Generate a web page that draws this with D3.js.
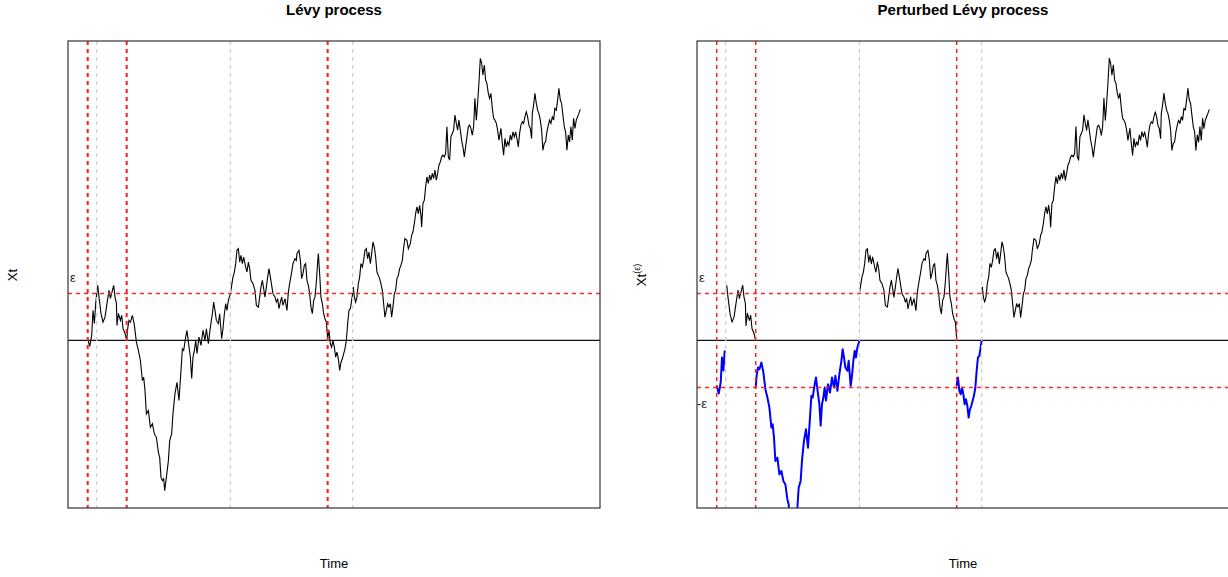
<!DOCTYPE html>
<html>
<head>
<meta charset="utf-8">
<script src="https://cdn.jsdelivr.net/npm/d3@7/dist/d3.min.js"></script>
<style>
  body { margin: 0; background: #fff; }
  text { font-family: "Liberation Sans", Arial, sans-serif; }
</style>
</head>
<body>
<div id="chart"></div>
<script>
// sampled path of the process (time, value)
var times = [0.000, 0.020, 0.040, 0.053, 0.067, 0.080, 0.100, 0.113, 0.133, 0.153, 0.173, 0.193, 0.213, 0.227, 0.247, 0.260, 0.273, 0.287, 0.293, 0.307, 0.327, 0.340, 0.353, 0.373, 0.390,
  0.400, 0.413, 0.427, 0.447, 0.467, 0.487, 0.507, 0.527, 0.547, 0.560, 0.573, 0.587, 0.607, 0.627, 0.647, 0.667, 0.687, 0.707, 0.720, 0.733, 0.747, 0.760, 0.770, 0.787, 0.807, 0.820, 0.840, 0.853, 0.873, 0.893, 0.913, 0.933, 0.947, 0.960, 0.980, 0.993,
  1.007, 1.027, 1.040, 1.053, 1.067, 1.080, 1.093, 1.113, 1.133, 1.153, 1.173, 1.187, 1.207, 1.227, 1.247, 1.260, 1.273, 1.287, 1.307, 1.320, 1.340, 1.353, 1.367, 1.380, 1.393, 1.407, 1.427,
  1.440, 1.453, 1.467, 1.480, 1.493, 1.507, 1.520, 1.533, 1.547, 1.560, 1.580, 1.593, 1.607, 1.620, 1.633, 1.653, 1.673, 1.687, 1.707, 1.720, 1.733, 1.747, 1.760, 1.773, 1.787, 1.800, 1.813, 1.827, 1.840, 1.853, 1.873, 1.887, 1.900, 1.913, 1.927, 1.940, 1.953, 1.973, 1.993,
  2.007, 2.020, 2.040, 2.053, 2.073, 2.087, 2.093, 2.113, 2.127, 2.140, 2.153, 2.167, 2.180, 2.193, 2.207, 2.220, 2.233, 2.247, 2.260, 2.273, 2.287, 2.300, 2.307, 2.320, 2.333, 2.347, 2.360, 2.373, 2.387, 2.400,
  2.413, 2.427, 2.440, 2.453, 2.467, 2.480, 2.493, 2.507, 2.520, 2.533, 2.547, 2.560, 2.573, 2.587, 2.600, 2.613, 2.627, 2.640, 2.650, 2.657, 2.667, 2.680, 2.693, 2.707, 2.720, 2.733, 2.747, 2.760, 2.773, 2.787, 2.800, 2.813, 2.827, 2.840, 2.853, 2.867, 2.880, 2.893, 2.907, 2.920, 2.933, 2.947, 2.960, 2.973, 2.987,
  3.000, 3.013, 3.027, 3.040, 3.053, 3.067, 3.080, 3.093, 3.107, 3.120, 3.133, 3.147, 3.157, 3.173, 3.193, 3.207, 3.227, 3.240, 3.253, 3.267, 3.280, 3.293, 3.307, 3.320, 3.333, 3.340, 3.353, 3.367, 3.380, 3.393, 3.407, 3.420, 3.433, 3.447, 3.460, 3.473, 3.487,
  3.500, 3.513, 3.527, 3.540, 3.553, 3.567, 3.580, 3.593, 3.607, 3.620, 3.633, 3.647, 3.660, 3.673, 3.687, 3.700, 3.713, 3.727, 3.740, 3.753, 3.767, 3.780, 3.793, 3.807, 3.820, 3.833, 3.847, 3.860, 3.873, 3.887, 3.900, 3.913, 3.927, 3.940, 3.953, 3.967, 3.980, 3.993,
  4.007, 4.020, 4.033, 4.047, 4.060, 4.073, 4.087, 4.100, 4.113, 4.133, 4.147, 4.160, 4.173, 4.187, 4.200, 4.213, 4.227, 4.240, 4.253, 4.267, 4.280, 4.293, 4.307, 4.320, 4.333, 4.347, 4.360, 4.373, 4.387, 4.400, 4.413, 4.427, 4.440, 4.447, 4.460, 4.473, 4.487,
  4.500, 4.513, 4.527, 4.540, 4.553, 4.567, 4.580, 4.593, 4.607, 4.620, 4.633, 4.647, 4.660, 4.673, 4.687, 4.700, 4.713, 4.727, 4.740, 4.753, 4.767, 4.780, 4.793, 4.807, 4.820, 4.833, 4.847, 4.860, 4.873, 4.887, 4.900, 4.913, 4.927];

var values = [0.017, -0.060, 0.050, 0.300, 0.170, 0.370, 0.550, 0.433, 0.270, 0.183, 0.233, 0.370, 0.500, 0.420, 0.500, 0.550, 0.433, 0.370, 0.150, 0.270, 0.200, 0.250, 0.120, 0.070, 0.000,
  0.120, 0.200, 0.183, 0.250, 0.150, -0.017, -0.100, -0.200, -0.400, -0.367, -0.500, -0.733, -0.700, -0.867, -0.833, -0.933, -0.967, -1.117, -1.167, -1.367, -1.400, -1.380, -1.500, -1.367, -1.200, -1.000, -0.930, -0.730, -0.530, -0.417, -0.600, -0.300, -0.083, -0.100, 0.033, 0.100,
  -0.017, -0.167, -0.380, -0.167, -0.100, 0.000, -0.130, 0.033, -0.050, 0.100, 0.000, 0.117, -0.033, 0.133, 0.267, 0.383, 0.300, 0.200, 0.167, 0.267, 0.017, 0.117, 0.267, 0.367, 0.300, 0.400, 0.467,
  0.550, 0.633, 0.683, 0.767, 0.900, 0.917, 0.783, 0.850, 0.767, 0.833, 0.733, 0.683, 0.783, 0.717, 0.600, 0.567, 0.500, 0.350, 0.333, 0.433, 0.533, 0.600, 0.517, 0.433, 0.533, 0.633, 0.717, 0.633, 0.550, 0.467, 0.433, 0.383, 0.417, 0.317, 0.383, 0.433, 0.350, 0.417, 0.300,
  0.483, 0.567, 0.683, 0.767, 0.817, 0.800, 0.867, 0.900, 0.800, 0.617, 0.667, 0.750, 0.767, 0.600, 0.550, 0.467, 0.333, 0.267, 0.400, 0.433, 0.583, 0.783, 0.867, 0.667, 0.433, 0.367, 0.267, 0.217, 0.183, 0.020,
  0.100, -0.033, -0.067, 0.000, -0.067, -0.167, -0.117, -0.183, -0.300, -0.217, -0.183, -0.133, -0.083, 0.000, 0.167, 0.300, 0.317, 0.400, 0.470, 0.533, 0.433, 0.383, 0.433, 0.567, 0.633, 0.767, 0.733, 0.800, 0.900, 0.917, 0.817, 0.883, 0.767, 0.867, 0.983, 0.933, 0.833, 0.683, 0.650, 0.617, 0.567, 0.500, 0.367, 0.233, 0.300,
  0.367, 0.333, 0.367, 0.233, 0.333, 0.467, 0.500, 0.617, 0.650, 0.717, 0.750, 0.800, 0.900, 1.017, 1.000, 0.917, 0.967, 1.050, 1.083, 1.167, 1.267, 1.333, 1.267, 1.350, 1.250, 1.133, 1.367, 1.400, 1.533, 1.633, 1.567, 1.650, 1.600, 1.667, 1.617, 1.700, 1.600,
  1.667, 1.750, 1.783, 1.833, 1.850, 1.833, 1.867, 2.133, 1.833, 1.800, 2.033, 2.067, 2.100, 2.250, 2.167, 2.100, 2.200, 2.100, 2.000, 1.933, 1.833, 1.933, 2.033, 2.133, 2.150, 2.117, 2.050, 2.133, 2.417, 2.200, 2.367, 2.567, 2.817, 2.767, 2.650, 2.750, 2.600, 2.567,
  2.467, 2.417, 2.467, 2.317, 2.217, 2.200, 2.167, 2.100, 2.000, 2.117, 1.967, 1.850, 2.017, 1.933, 1.983, 1.950, 2.050, 2.000, 2.083, 2.033, 2.083, 2.017, 1.933, 2.067, 2.150, 2.183, 2.167, 2.233, 2.283, 2.233, 2.150, 2.117, 2.017, 2.267, 2.350, 2.467, 2.367,
  2.300, 2.267, 2.200, 2.100, 1.900, 1.967, 1.983, 2.083, 2.150, 2.200, 2.167, 2.233, 2.200, 2.317, 2.300, 2.400, 2.517, 2.400, 2.367, 2.250, 2.133, 2.083, 1.900, 2.050, 1.983, 2.133, 2.000, 2.217, 2.117, 2.200, 2.233, 2.267, 2.307];

// threshold and the stopping times
var eps = 0.47;
var tau = [0, 0.39, 2.40];       // red lines: start of a perturbed stretch
var sigma = [0.09, 1.427, 2.65]; // grey lines: end of a perturbed stretch

var titles = ["Lévy process", "Perturbed Lévy process"];

var W = 1228, H = 577;
var plotTop = 41, plotBottom = 508, pw = 532;
var lefts = [68, 697];

var svg = d3.select("#chart").append("svg")
    .attr("width", W)
    .attr("height", H);

var pts = times.map(function(t, i) { return { t: t, v: values[i] }; });

// R style: range plus 4% each side
var tExt = d3.extent(times), vExt = d3.extent(values);
var tPad = (tExt[1] - tExt[0]) * 0.04, vPad = (vExt[1] - vExt[0]) * 0.04;
var yScale = d3.scaleLinear().domain([vExt[0] - vPad, vExt[1] + vPad]).range([plotBottom, plotTop]);

// segments for the perturbed version: shifted down by eps between tau and sigma
function segs() {
    var out = [];
    for (var i = 0; i < tau.length; i++) {
        var nextTau = i + 1 < tau.length ? tau[i + 1] : tExt[1];
        out.push({
            col: "blue", w: 2,
            pts: pts.filter(function(p) { return p.t >= tau[i] && p.t <= sigma[i]; })
                .map(function(p) { return { t: p.t, v: p.v - eps }; })
        });
        out.push({
            col: "black", w: 1.1,
            pts: pts.filter(function(p) { return p.t >= sigma[i] && p.t <= nextTau; })
        });
    }
    return out;
}

lefts.forEach(function(x0, k) {
    var xScale = d3.scaleLinear().domain([tExt[0] - tPad, tExt[1] + tPad]).range([x0, x0 + pw]);
    var line = d3.line()
        .x(function(d) { return xScale(d.t); })
        .y(function(d) { return yScale(d.v); });

    svg.append("clipPath").attr("id", "clip" + k)
        .append("rect").attr("x", x0).attr("y", plotTop).attr("width", pw).attr("height", plotBottom - plotTop);

    var g = svg.append("g").attr("clip-path", "url(#clip" + k + ")");

    // the path
    if (k == 0) {
        g.append("path").datum(pts)
            .attr("d", line)
            .attr("fill", "none")
            .attr("stroke", "black")
            .attr("stroke-width", 1.1);
    } else {
        segs().forEach(function(s) {
            g.append("path").datum(s.pts)
                .attr("d", line)
                .attr("fill", "none")
                .attr("stroke", s.col)
                .attr("stroke-width", s.w)
                .attr("stroke-linejoin", "round");
        });
    }

    // zero line
    g.append("line")
        .attr("x1", x0).attr("x2", x0 + pw)
        .attr("y1", yScale(0)).attr("y2", yScale(0))
        .attr("stroke", "#111").attr("stroke-width", 1.2);

    // eps levels
    var levels = k == 0 ? [eps] : [eps, -eps];
    g.selectAll(".lev").data(levels).enter().append("line")
        .attr("x1", x0).attr("x2", x0 + pw)
        .attr("y1", function(d) { return yScale(d); })
        .attr("y2", function(d) { return yScale(d); })
        .attr("stroke", "#ff2a2a").attr("stroke-width", 1.5)
        .attr("stroke-dasharray", "4,4");

    // grey lines at sigma
    g.selectAll(".sig").data(sigma).enter().append("line")
        .attr("x1", function(d) { return xScale(d); })
        .attr("x2", function(d) { return xScale(d); })
        .attr("y1", plotTop).attr("y2", plotBottom)
        .attr("stroke", "#cccccc").attr("stroke-width", 1.2)
        .attr("stroke-dasharray", "4,4");

    // red lines at tau
    g.selectAll(".tau").data(tau).enter().append("line")
        .attr("x1", function(d) { return xScale(d); })
        .attr("x2", function(d) { return xScale(d); })
        .attr("y1", plotTop).attr("y2", plotBottom)
        .attr("stroke", "#ff1a1a").attr("stroke-width", k == 0 ? 2 : 1.5)
        .attr("stroke-dasharray", "4,4");

    // box
    svg.append("rect")
        .attr("x", x0).attr("y", plotTop)
        .attr("width", pw).attr("height", plotBottom - plotTop)
        .attr("fill", "none").attr("stroke", "#333").attr("stroke-width", 1.2);

    // eps labels
    svg.append("text")
        .attr("x", x0 + 2).attr("y", yScale(eps) - 11)
        .attr("font-size", "13px").attr("fill", "#222")
        .text("ε");
    if (k == 1) {
        svg.append("text")
            .attr("x", x0).attr("y", yScale(-eps) + 20)
            .attr("font-size", "13px").attr("fill", "#222")
            .text("-ε");
    }

    // title
    svg.append("text")
        .attr("x", x0 + pw / 2).attr("y", 15)
        .attr("text-anchor", "middle")
        .attr("font-size", "15px").attr("font-weight", "bold")
        .text(titles[k]);

    // x label
    svg.append("text")
        .attr("x", x0 + pw / 2).attr("y", 568)
        .attr("text-anchor", "middle")
        .attr("font-size", "13px")
        .text("Time");

    // y label
    var yl = svg.append("text")
        .attr("transform", "translate(" + (x0 - 51) + ",275) rotate(-90)")
        .attr("text-anchor", "middle")
        .attr("font-size", "13px");
    yl.append("tspan").text("Xt");
    if (k == 1) {
        yl.append("tspan").attr("dy", -6).attr("font-size", "9px").text("(ε)");
    }
});
</script>
</body>
</html>
